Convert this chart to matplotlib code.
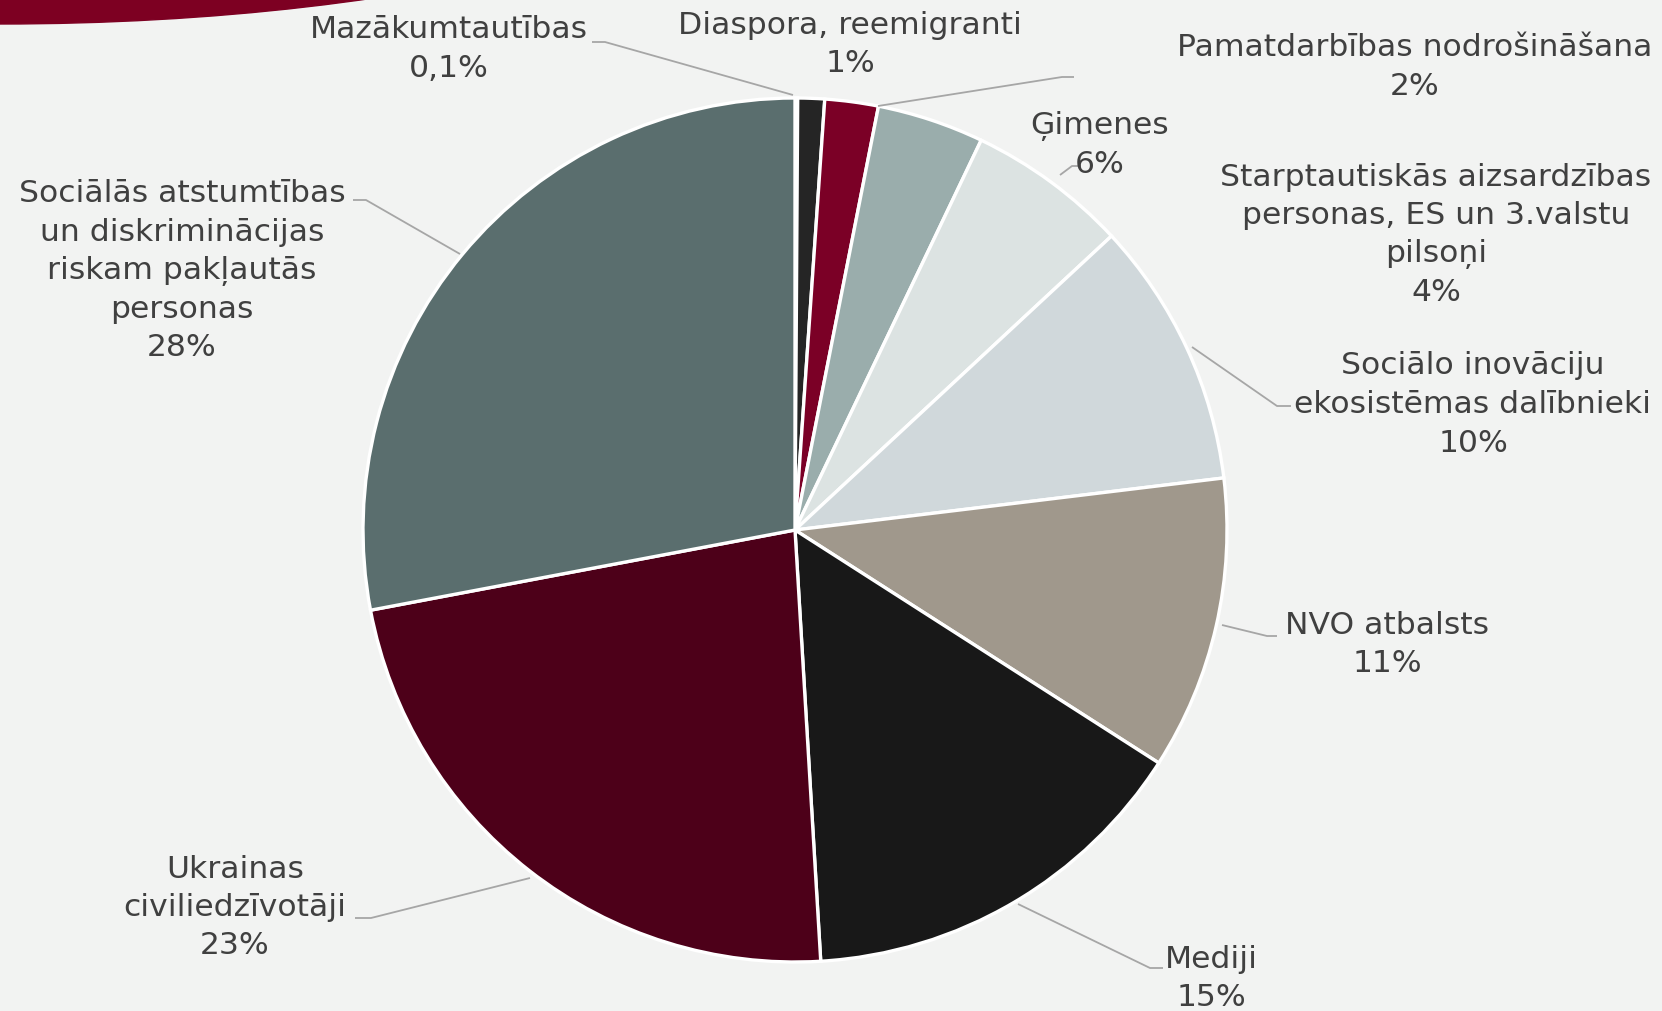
import matplotlib
matplotlib.use("Agg")
import matplotlib.pyplot as plt
from matplotlib.patches import Ellipse

# ---- data ----
categories = ["Mazākumtautības", "Diaspora, reemigranti", "Pamatdarbības nodrošināšana",
              "Starptautiskās aizsardzības personas, ES un 3.valstu pilsoņi", "Ģimenes",
              "Sociālo inovāciju ekosistēmas dalībnieki", "NVO atbalsts", "Mediji",
              "Ukrainas civiliedzīvotāji",
              "Sociālās atstumtības un diskriminācijas riskam pakļautās personas"]
values = [0.1, 1, 2, 4, 6, 10, 11, 15, 23, 28]
pct_labels = ["0,1%", "1%", "2%", "4%", "6%", "10%", "11%", "15%", "23%", "28%"]
label_lines = [
    ["Mazākumtautības"],
    ["Diaspora, reemigranti"],
    ["Pamatdarbības nodrošināšana"],
    ["Starptautiskās aizsardzības", "personas, ES un 3.valstu", "pilsoņi"],
    ["Ģimenes"],
    ["Sociālo inovāciju", "ekosistēmas dalībnieki"],
    ["NVO atbalsts"],
    ["Mediji"],
    ["Ukrainas", "civiliedzīvotāji"],
    ["Sociālās atstumtības", "un diskriminācijas", "riskam pakļautās", "personas"],
]
colors = ["#3a3a3a", "#252525", "#7b0026", "#9aadac", "#dce3e2",
          "#d0d8db", "#a0988c", "#181818", "#4d0019", "#5a6e6e"]

W, H = 1662, 1011
BG = "#f2f3f2"
fig = plt.figure(figsize=(W / 100, H / 100), dpi=100, facecolor=BG)
ax = fig.add_axes([0, 0, 1, 1])
ax.set_facecolor(BG)

def Y(y):
    return H - y

# decorative band top-left
ax.add_patch(Ellipse((0, Y(-200)), 2 * 800, 2 * 224, color="#7d0022", zorder=1))

cx, cy, R = 795, 530, 432
wedges, _ = ax.pie(values, colors=colors, startangle=90, counterclock=False,
                   center=(cx, Y(cy)), radius=R, normalize=True,
                   wedgeprops=dict(edgecolor="white", linewidth=2.4))
for w in wedges:
    w.set_zorder(2)

# label positions (centre x, first-line y) in image pixels
label_pos = [
    (449, 30), (850, 25), (1415, 48), (1436, 177), (1100, 126),
    (1473, 366), (1387, 625), (1211, 959), (235, 869), (182, 194),
]
pitch = 38.5
txt_color = "#404040"
fs = 22.6
for lines, pct, (x, y) in zip(label_lines, pct_labels, label_pos):
    for i, ln in enumerate(lines + [pct]):
        ax.text(x, Y(y + i * pitch), ln, ha="center", va="center",
                fontsize=fs, color=txt_color, family="DejaVu Sans", zorder=5)

# leader lines (image px)
leaders = [
    [(592, 42), (605, 42), (793, 95)],
    [(1074, 77), (1062, 77), (878, 106)],
    [(1081, 166), (1072, 166), (1060, 175)],
    [(1291, 406), (1277, 406), (1192, 347)],
    [(1277, 636), (1267, 636), (1222, 625)],
    [(1163, 968), (1150, 968), (1018, 904)],
    [(355, 918), (371, 918), (530, 878)],
    [(353, 200), (366, 200), (460, 254)],
]
for pts in leaders:
    xs = [p[0] for p in pts]
    ys = [Y(p[1]) for p in pts]
    ax.plot(xs, ys, color="#a6a6a6", lw=1.3, zorder=3, solid_capstyle="butt")

ax.set_xlim(0, W)
ax.set_ylim(0, H)
ax.set_aspect("auto")
ax.axis("off")
fig.savefig("out.png", dpi=100, facecolor=BG)
